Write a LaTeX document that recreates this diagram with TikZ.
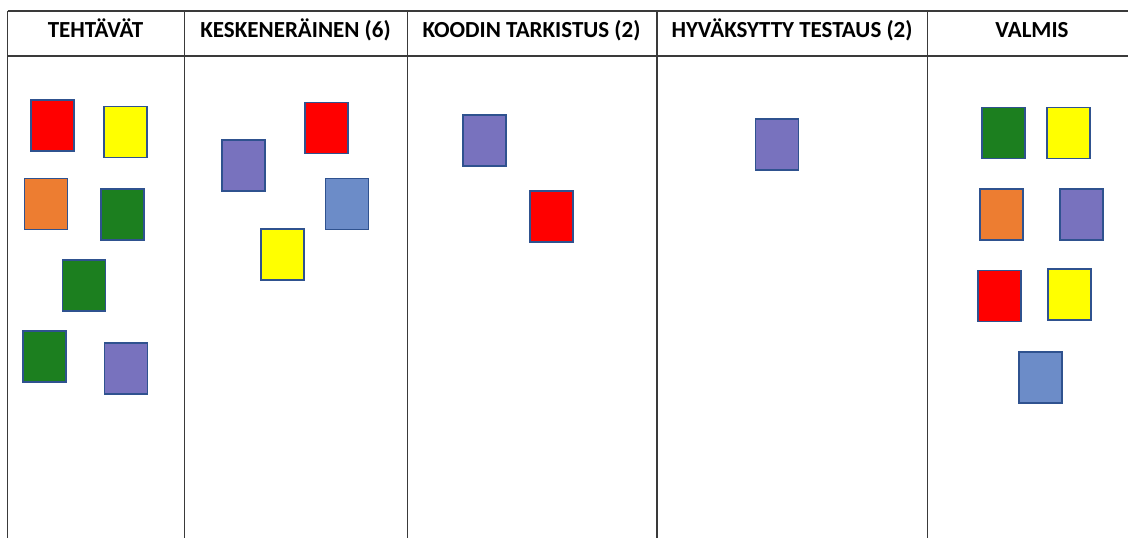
\documentclass[tikz,border=0pt]{standalone}
\usepackage{fontspec}
\setmainfont{Carlito}
\usepackage{tikz}
\definecolor{cred}{HTML}{FF0000}
\definecolor{cyellow}{HTML}{FFFF00}
\definecolor{corange}{HTML}{ED7D31}
\definecolor{cgreen}{HTML}{1C7F1F}
\definecolor{cpurple}{HTML}{7872BE}
\definecolor{cblue}{HTML}{6C8CC8}
\definecolor{cedge}{HTML}{2F528F}
\definecolor{grid}{HTML}{3A3A3A}

\begin{document}
\begin{tikzpicture}[x=0.5pt, y=-0.5pt,
    card/.style={draw=cedge, line width=0.6pt, minimum width=21.5pt, minimum height=25.5pt, inner sep=0pt},
    head/.style={font=\bfseries\fontsize{11.5}{13}\selectfont, anchor=base}]
        \useasboundingbox (0,0) rectangle (1128,538);
        % table
        \draw[grid, line width=0.75pt] (7.5,11) -- (1128,11);
        \draw[grid, line width=0.75pt] (7.5,56) -- (1128,56);
        \foreach \x in {7.5,184.5,407.5,657,927.5}
            \draw[grid, line width=0.75pt] (\x,11) -- (\x,538);
        % headers
        \node (h1) [head] at (95.5,37.5) {TEHTÄVÄT};
        \node (h2) [head] at (295.5,37.5) {KESKENERÄINEN (6)};
        \node (h3) [head] at (531.5,37.5) {KOODIN TARKISTUS (2)};
        \node (h4) [head] at (792,37.5) {HYVÄKSYTTY TESTAUS (2)};
        \node (h5) [head] at (1032,37.5) {VALMIS};
        % tehtävät
        \node (t1) [card, fill=cred] at (52.5,125.5) {};
        \node (t2) [card, fill=cyellow] at (125.5,132) {};
        \node (t3) [card, fill=corange] at (46,204) {};
        \node (t4) [card, fill=cgreen] at (122.5,214.5) {};
        \node (t5) [card, fill=cgreen] at (84,285.5) {};
        \node (t6) [card, fill=cgreen] at (44.5,356.5) {};
        \node (t7) [card, fill=cpurple] at (126,368.5) {};
        % keskeneräinen
        \node (k1) [card, fill=cpurple] at (243.5,165.5) {};
        \node (k2) [card, fill=cred] at (326.5,128) {};
        \node (k3) [card, fill=cblue] at (347,204) {};
        \node (k4) [card, fill=cyellow] at (282.5,254.5) {};
        % koodin tarkistus
        \node (r1) [card, fill=cpurple] at (484.5,140.5) {};
        \node (r2) [card, fill=cred] at (551.5,216.5) {};
        % hyväksytty testaus
        \node (a1) [card, fill=cpurple] at (777,144.5) {};
        % valmis
        \node (v1) [card, fill=cgreen] at (1003.5,133) {};
        \node (v2) [card, fill=cyellow] at (1068.5,133) {};
        \node (v3) [card, fill=corange] at (1001.5,214.5) {};
        \node (v4) [card, fill=cpurple] at (1081.5,214.5) {};
        \node (v5) [card, fill=cred] at (999.5,296) {};
        \node (v6) [card, fill=cyellow] at (1069.5,294.5) {};
        \node (v7) [card, fill=cblue] at (1040.5,377.5) {};
    \end{tikzpicture}
\end{document}
